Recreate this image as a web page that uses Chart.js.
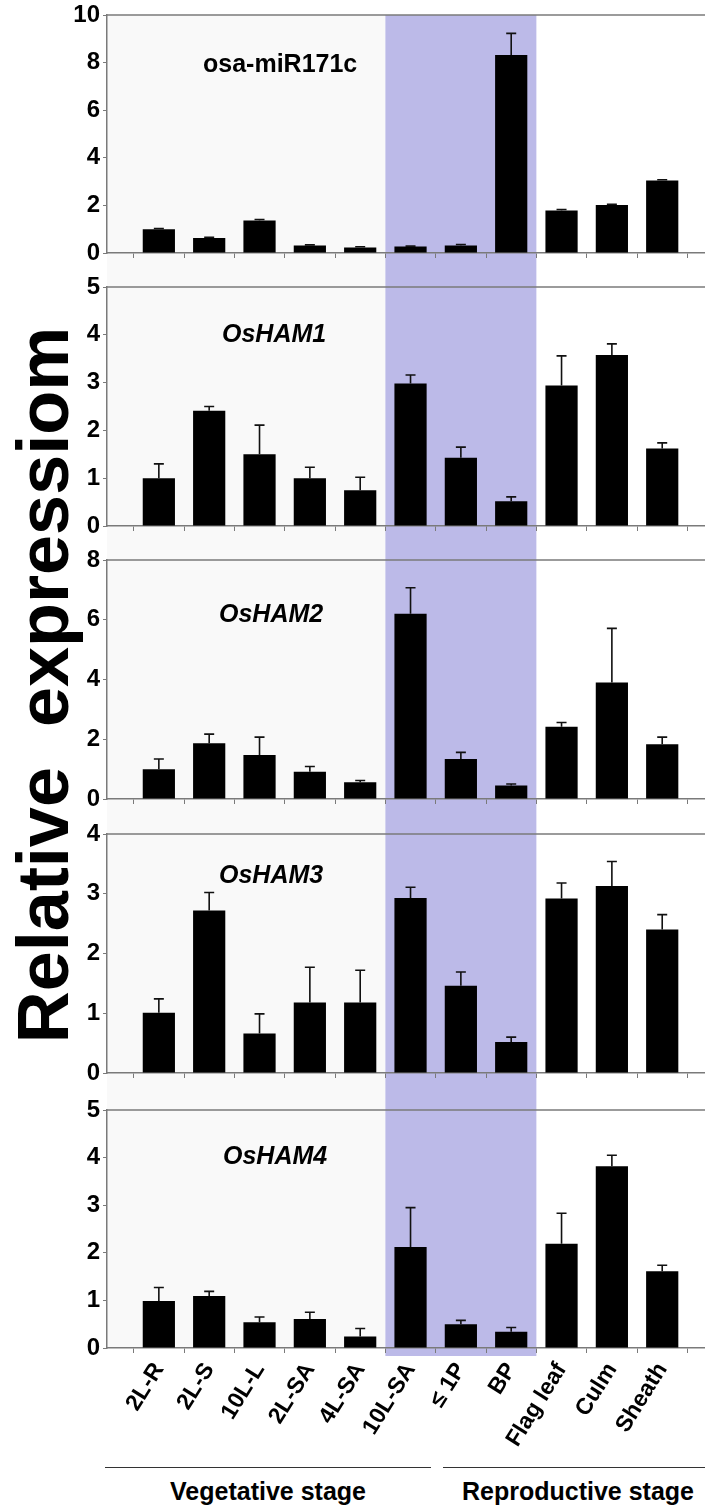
<!DOCTYPE html>
<html>
<head>
<meta charset="utf-8">
<script src="https://cdn.jsdelivr.net/npm/chart.js@4.4.0/dist/chart.umd.min.js"></script>
<style>
  body { margin: 0; background: #fff; width: 705px; height: 1506px; position: relative; overflow: hidden;
         font-family: "Liberation Sans", Arial, sans-serif; }
  canvas { position: absolute; left: 0; }
  #ylabel { position: absolute; left: 43px; top: 685px; font-size: 72px; font-weight: bold; line-height: 1;
            white-space: pre; transform: translate(-50%, -50%) rotate(-90deg); color: #000; }
  .stage { position: absolute; top: 1479px; font-size: 25px; font-weight: bold; line-height: 1; text-align: center; }
  .rule { position: absolute; top: 1467px; height: 0; border-top: 1.5px solid #333; }
</style>
</head>
<body>
<div id="ylabel">Relative  expressiom</div>
<canvas id="c0" width="705" height="270" style="top:0px"></canvas>
<canvas id="c1" width="705" height="273" style="top:270px"></canvas>
<canvas id="c2" width="705" height="274" style="top:543px"></canvas>
<canvas id="c3" width="705" height="275" style="top:817px"></canvas>
<canvas id="c4" width="705" height="360" style="top:1092px"></canvas>
<div class="rule" style="left:105px; width:326px"></div>
<div class="rule" style="left:443px; width:262px"></div>
<div class="stage" style="left:105px; width:326px">Vegetative stage</div>
<div class="stage" style="left:443px; width:270px">Reproductive stage</div>
<script>
// categories (tissues / stages)
const categories = ['2L-R', '2L-S', '10L-L', '2L-SA', '4L-SA', '10L-SA', '≤ 1P', 'BP', 'Flag leaf', 'Culm', 'Sheath'];

// mean relative expression and error (SD) per panel
const mir171cMean = [1.00, 0.63, 1.37, 0.31, 0.23, 0.27, 0.32, 8.32, 1.79, 2.02, 3.05];
const mir171cErr  = [0.03, 0.03, 0.04, 0.03, 0.03, 0.02, 0.04, 0.91, 0.04, 0.03, 0.03];
const ham1Mean = [1.00, 2.41, 1.50, 1.00, 0.75, 2.98, 1.43, 0.52, 2.94, 3.58, 1.62];
const ham1Err  = [0.30, 0.09, 0.61, 0.23, 0.27, 0.18, 0.22, 0.09, 0.62, 0.23, 0.12];
const ham2Mean = [1.00, 1.87, 1.47, 0.91, 0.56, 6.20, 1.34, 0.45, 2.42, 3.90, 1.83];
const ham2Err  = [0.34, 0.30, 0.60, 0.18, 0.06, 0.87, 0.22, 0.05, 0.14, 1.81, 0.24];
const ham3Mean = [1.01, 2.72, 0.66, 1.18, 1.18, 2.93, 1.46, 0.52, 2.92, 3.13, 2.40];
const ham3Err  = [0.23, 0.30, 0.33, 0.59, 0.54, 0.18, 0.23, 0.08, 0.26, 0.41, 0.25];
const ham4Mean = [0.99, 1.09, 0.54, 0.61, 0.24, 2.12, 0.50, 0.34, 2.19, 3.82, 1.61];
const ham4Err  = [0.28, 0.10, 0.11, 0.14, 0.17, 0.83, 0.08, 0.09, 0.64, 0.23, 0.13];

const titles = ['osa-miR171c', 'OsHAM1', 'OsHAM2', 'OsHAM3', 'OsHAM4'];
const yMax  = [10, 5, 8, 4, 5];
const yStep = [2, 1, 2, 1, 1];

// shaded reproductive-apex region, in category units
const bandFrom = 4.5, bandTo = 7.5;

const means = [mir171cMean, ham1Mean, ham2Mean, ham3Mean, ham4Mean];
const errs  = [mir171cErr, ham1Err, ham2Err, ham3Err, ham4Err];

// layout per canvas
const padTop = [15, 17, 17, 17, 18];
const xAxisH = [17, 17, 18, 19, 104];
const titleX = [203, 222, 219, 219, 223];
const titleDy = [57, 55, 62, 49, 54];

const AXIS = '#7a7a7a';
const FONT = '"Liberation Sans", Arial, sans-serif';

const decor = {
  id: 'decor',
  beforeDraw(chart, args, o) {
    const { ctx, chartArea: a, scales: { x } } = chart;
    const x0 = x.getPixelForValue(bandFrom), x1 = x.getPixelForValue(bandTo);
    const top = o.first ? a.top : 0;
    ctx.save();
    ctx.fillStyle = '#f9f9f9';
    ctx.fillRect(a.left, top, x0 - a.left, (o.last ? a.bottom : chart.height) - top);
    ctx.fillStyle = 'rgb(188,186,232)';
    const bottom = o.last ? a.bottom + 8 : chart.height;
    ctx.fillRect(x0, top, x1 - x0, bottom - top);
    ctx.restore();
  },
  afterDatasetsDraw(chart, args, o) {
    const { ctx, scales: { y } } = chart;
    const meta = chart.getDatasetMeta(0);
    ctx.save();
    ctx.strokeStyle = '#111';
    ctx.lineWidth = 1.6;
    meta.data.forEach((bar, i) => {
      const yt = y.getPixelForValue(o.mean[i] + o.err[i]);
      ctx.beginPath();
      ctx.moveTo(bar.x, bar.y);
      ctx.lineTo(bar.x, yt);
      ctx.moveTo(bar.x - 5, yt);
      ctx.lineTo(bar.x + 5, yt);
      ctx.stroke();
    });
    ctx.restore();
  },
  afterDraw(chart, args, o) {
    const { ctx, chartArea: a } = chart;
    ctx.save();
    ctx.strokeStyle = AXIS;
    ctx.lineWidth = 1.5;
    ctx.beginPath();
    ctx.moveTo(a.left, a.top);
    ctx.lineTo(a.right, a.top);
    ctx.stroke();
    ctx.fillStyle = '#000';
    ctx.font = (o.italic ? 'italic ' : '') + 'bold 25px ' + FONT;
    ctx.textBaseline = 'alphabetic';
    ctx.fillText(o.title, o.tx, a.top + o.ty);
    ctx.restore();
  }
};

for (let p = 0; p < 5; p++) {
  const last = p === 4;
  new Chart(document.getElementById('c' + p), {
    type: 'bar',
    data: {
      datasets: [{
        data: means[p].map((v, i) => ({ x: i, y: v })),
        backgroundColor: '#000',
        borderWidth: 0,
        categoryPercentage: 0.64,
        barPercentage: 1
      }]
    },
    options: {
      responsive: false,
      animation: false,
      layout: { padding: { top: padTop[p], left: 0, right: 0, bottom: 0 } },
      plugins: {
        legend: { display: false },
        tooltip: { enabled: false },
        decor: { first: p === 0, last: last, mean: means[p], err: errs[p],
                 title: titles[p], italic: p > 0, tx: titleX[p], ty: titleDy[p] }
      },
      scales: {
        x: {
          type: 'linear',
          min: -1.03,
          max: 10.85,
          offset: false,
          afterBuildTicks: s => { s.ticks = categories.map((c, i) => ({ value: i })); },
          afterFit: s => { s.height = xAxisH[p]; },
          border: { display: true, color: AXIS, width: 1.5 },
          grid: { drawOnChartArea: false, drawTicks: true, tickLength: 5, color: AXIS, lineWidth: 1 },
          ticks: {
            display: last,
            autoSkip: false,
            minRotation: 58,
            maxRotation: 58,
            padding: 5,
            color: '#000',
            font: { family: FONT, weight: 'bold', size: 23 },
            callback: v => categories[v]
          }
        },
        y: {
          min: 0,
          max: yMax[p],
          afterFit: s => { s.width = 107; },
          border: { display: true, color: AXIS, width: 1.5 },
          grid: { drawOnChartArea: false, drawTicks: true, tickLength: 4, color: AXIS },
          ticks: {
            stepSize: yStep[p],
            padding: 3,
            color: '#000',
            font: { family: FONT, weight: 'bold', size: 24, lineHeight: 1 }
          }
        }
      }
    },
    plugins: [decor]
  });
}
</script>
</body>
</html>
